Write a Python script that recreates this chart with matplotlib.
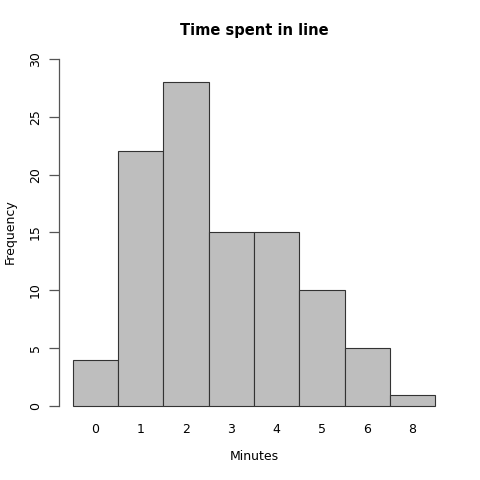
import matplotlib.pyplot as plt

# Dữ liệu
phut = ["0", "1", "2", "3", "4", "5", "6", "8"]
tan_so = [4, 22, 28, 15, 15, 10, 5, 1]

fig = plt.figure(figsize=(4.8, 4.8), dpi=100)
ax = fig.add_axes([58.5 / 480, 1 - 420 / 480, 391 / 480, 375 / 480])

vi_tri = [i + 0.5 for i in range(len(phut))]
ax.bar(vi_tri, tan_so, width=1.0, color="#BEBEBE", edgecolor="#333333", linewidth=0.8)

ax.set_xlim(-0.32, 8.32)
ax.set_ylim(-1.2, 31.2)

for s in ["top", "right", "bottom"]:
    ax.spines[s].set_visible(False)
ax.spines["left"].set_bounds(0, 30)
ax.spines["left"].set_color("#555555")
ax.spines["left"].set_linewidth(0.9)

ax.set_yticks([0, 5, 10, 15, 20, 25, 30])
ax.tick_params(axis="y", length=7, width=0.9, color="#555555", labelsize=9, pad=5)
for lbl in ax.get_yticklabels():
    lbl.set_rotation(90)
    lbl.set_va("center")

ax.set_xticks(vi_tri)
ax.set_xticklabels(phut)
ax.tick_params(axis="x", length=0, labelsize=9, pad=2)

fig.text(254 / 480, 1 - 457 / 480, "Minutes", ha="center", va="center", fontsize=9)
fig.text(10 / 480, 1 - 232 / 480, "Frequency", ha="center", va="center",
         rotation=90, fontsize=9)
fig.text(254 / 480, 1 - 30 / 480, "Time spent in line", ha="center", va="center",
         fontsize=10.5, fontweight="bold")

plt.savefig("out.png", dpi=100)
